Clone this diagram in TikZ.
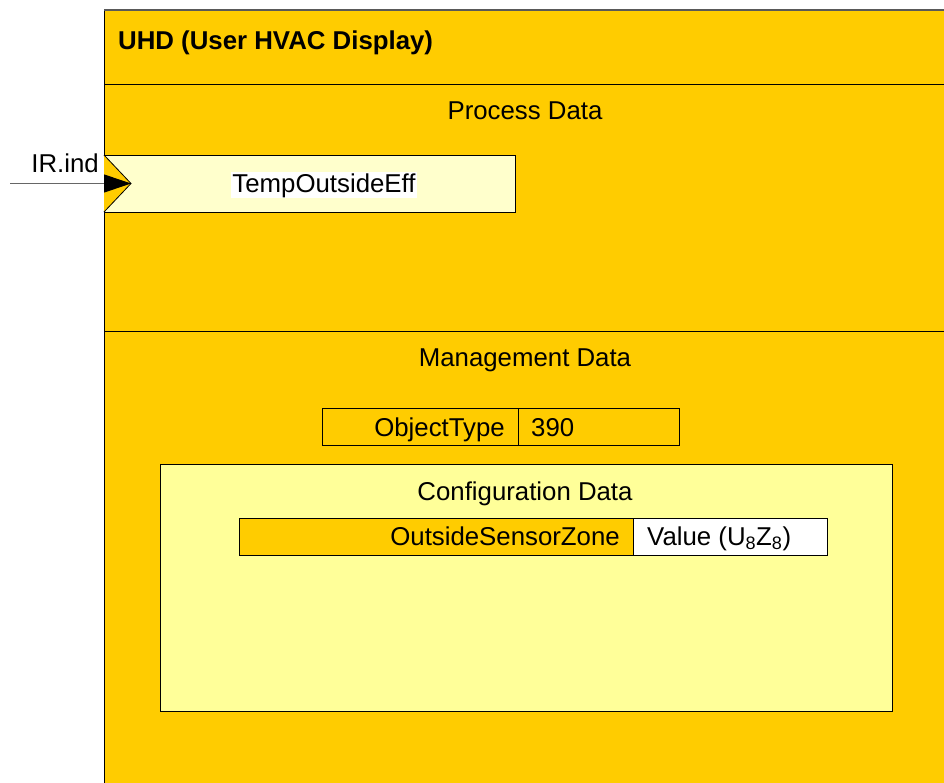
\documentclass[tikz,border=0pt]{standalone}
\usepackage{fontspec}
\setmainfont{Liberation Sans}
\usetikzlibrary{arrows.meta,calc}
\definecolor{uorange}{RGB}{255,204,0}
\definecolor{ucfg}{RGB}{255,255,153}
\definecolor{ucream}{RGB}{255,255,204}
\begin{document}
\begin{tikzpicture}[x=1pt,y=-1pt,
  every node/.style={font=\fontsize{25.8}{30}\selectfont},
  boxr/.style={draw=black, line width=1pt, anchor=north west, inner sep=0pt, outer sep=0pt},
  lbl/.style={inner sep=0pt, anchor=base}]
\useasboundingbox (0,0) rectangle (944,782);
\clip (0,0) rectangle (944,782);
% outer block
\node[boxr, fill=uorange, minimum width=900pt, minimum height=830pt] (uhd) at (104,10) {};
\draw[gray!70!black, line width=1.2pt] (104,10) -- (944,10);
\node[lbl, anchor=base west, font=\fontsize{25.8}{30}\selectfont\bfseries] (title) at (118,49) {UHD (User HVAC Display)};
\coordinate (l1a) at (104,84); \coordinate (l1b) at (944,84);
\draw[line width=1pt] (l1a) -- (l1b);
\node[lbl] (pd) at (525,119) {Process Data};
% process data box
\node[boxr, fill=ucream, minimum width=411pt, minimum height=57pt] (toe) at (104,155) {};
\node[lbl, fill=white, inner sep=1pt] (toet) at (324,192) {TempOutsideEff};
\coordinate (tip) at ($(toe.west)+(27,0)$);
\draw[fill=uorange, line width=0.8pt] (toe.north west) -- (tip) -- (toe.south west);
\coordinate (src) at (10,183.5);
\draw[gray!80!black, line width=1pt, -{Triangle[length=27pt,width=18pt,black]}] (src) -- (tip);
\node[lbl, anchor=base east] (ir) at (99,172) {IR.ind};
\coordinate (l2a) at (104,331); \coordinate (l2b) at (944,331);
\draw[line width=1pt] (l2a) -- (l2b);
\node[lbl] (md) at (525,366) {Management Data};
% object type
\node[boxr, fill=uorange, minimum width=196pt, minimum height=37pt] (ot) at (322,408) {};
\node[boxr, fill=uorange, minimum width=161pt, minimum height=37pt] (otv) at (518,408) {};
\node[lbl, anchor=base east] (ott) at (505,436) {ObjectType};
\node[lbl, anchor=base west] (otvt) at (531,436) {390};
% configuration data
\node[boxr, fill=ucfg, minimum width=732pt, minimum height=247pt] (cfg) at (160,464) {};
\node[lbl] (cfgt) at (525,500) {Configuration Data};
\node[boxr, fill=uorange, minimum width=394pt, minimum height=37pt] (osz) at (239,518) {};
\node[boxr, fill=white, minimum width=194pt, minimum height=37pt] (oszv) at (633,518) {};
\node[lbl, anchor=base east] (oszt) at (620,545) {OutsideSensorZone};
\node[lbl, anchor=base west] (oszvt) at (647,545) {Value (U\textsubscript{8}Z\textsubscript{8})};
\end{tikzpicture}
\end{document}
